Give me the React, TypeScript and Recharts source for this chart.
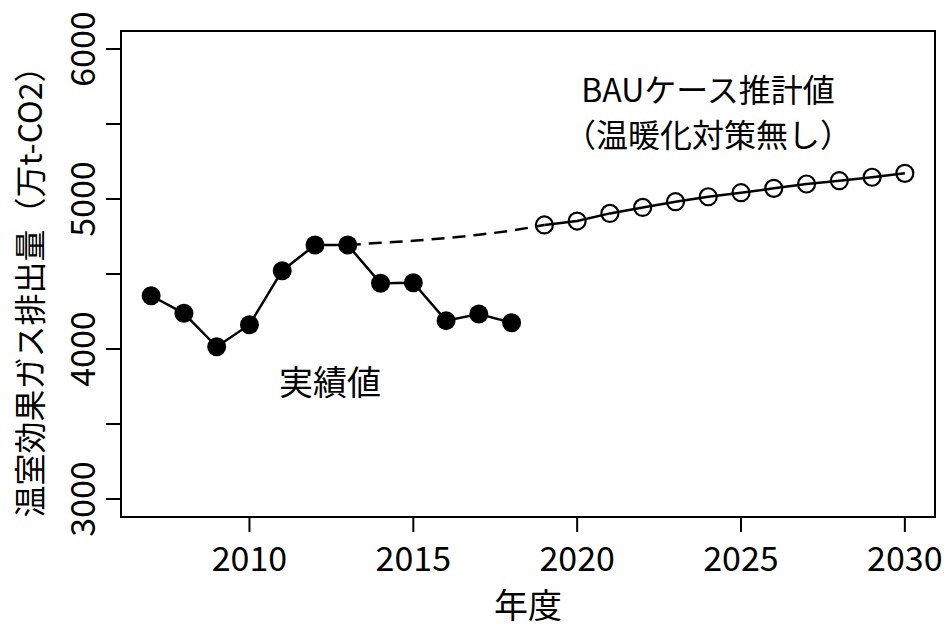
import React from "react";
import { LineChart, Line, XAxis, YAxis, ReferenceArea } from "recharts";

const actualYears = [2007, 2008, 2009, 2010, 2011, 2012, 2013, 2014, 2015, 2016, 2017, 2018];
const actualValues = [4355, 4238, 4015, 4162, 4522, 4693, 4693, 4438, 4442, 4189, 4233, 4175];

const bauYears = [2019, 2020, 2021, 2022, 2023, 2024, 2025, 2026, 2027, 2028, 2029, 2030];
const bauValues = [4827, 4853, 4904, 4944, 4982, 5015, 5042, 5071, 5100, 5122, 5145, 5171];

const bridgeYears = [2013, 2014, 2015, 2016, 2017, 2018, 2019];
const bridgeValues = [4693, 4708, 4722, 4740, 4762, 4790, 4827];

const xTicks = [2010, 2015, 2020, 2025, 2030];
const yTicks = [3000, 3500, 4000, 4500, 5000, 5500, 6000];
const yLabelTicks = [3000, 4000, 5000, 6000];

const xTitle = "年度";
const yTitle = "温室効果ガス排出量（万t-CO2）";
const actualLabel = "実績値";
const bauLabel1 = "BAUケース推計値";
const bauLabel2 = "（温暖化対策無し）";

const FONT = "'Noto Sans CJK JP', 'Noto Sans', sans-serif";
const FS = 34;

const allYears = Array.from(new Set([...actualYears, ...bauYears, ...bridgeYears])).sort((a, b) => a - b);
const data = allYears.map((yr) => {
  const row: any = { year: yr };
  const ai = actualYears.indexOf(yr);
  if (ai >= 0) row.actual = actualValues[ai];
  const bi = bauYears.indexOf(yr);
  if (bi >= 0) row.bau = bauValues[bi];
  const ri = bridgeYears.indexOf(yr);
  if (ri >= 0) row.bridge = bridgeValues[ri];
  return row;
});

const XTick = (props: any) => {
  const { x, payload } = props;
  return (
    <text x={x} y={556} textAnchor="middle" dominantBaseline="central" fontSize={FS} fontFamily={FONT} fill="#000">
      {payload.value}
    </text>
  );
};

const YTick = (props: any) => {
  const { y, payload } = props;
  if (!yLabelTicks.includes(payload.value)) return <g />;
  const cx = 80;
  return (
    <text
      x={cx}
      y={y}
      transform={`rotate(-90, ${cx}, ${y})`}
      textAnchor="middle"
      dominantBaseline="central"
      fontSize={FS}
      fontFamily={FONT}
      fill="#000"
    >
      {payload.value}
    </text>
  );
};

const FilledDot = (props: any) => {
  const { cx, cy } = props;
  if (cx == null || cy == null) return <g />;
  return <circle cx={cx} cy={cy} r={9.5} fill="#000" stroke="none" />;
};

const OpenDot = (props: any) => {
  const { cx, cy } = props;
  if (cx == null || cy == null) return <g />;
  return <circle cx={cx} cy={cy} r={8.5} fill="none" stroke="#000" strokeWidth={2.2} />;
};

export default function App() {
  return (
    <div style={{ position: "absolute", left: 0, top: 0, width: 946, height: 626, background: "#fff" }}>
      <LineChart width={946} height={626} data={data} margin={{ top: 31, right: 11, left: 0, bottom: 0 }}>
        <XAxis
          dataKey="year"
          type="number"
          domain={[2006.08, 2030.92]}
          ticks={xTicks}
          allowDataOverflow
          height={109}
          axisLine={false}
          tickLine={{ stroke: "#000", strokeWidth: 2 }}
          tickSize={15}
          tick={<XTick />}
          interval={0}
        />
        <YAxis
          type="number"
          domain={[2880, 6120]}
          ticks={yTicks}
          allowDataOverflow
          width={121}
          axisLine={false}
          tickLine={{ stroke: "#000", strokeWidth: 2 }}
          tickSize={15}
          tick={<YTick />}
          interval={0}
        />
        <ReferenceArea
          x1={2006.08}
          x2={2030.92}
          y1={2880}
          y2={6120}
          fill="none"
          fillOpacity={0}
          stroke="#000"
          strokeWidth={2}
          ifOverflow="visible"
        />
        <Line
          dataKey="bridge"
          type="monotone"
          stroke="#000"
          strokeWidth={2.5}
          strokeDasharray="13 8"
          dot={false}
          activeDot={false}
          isAnimationActive={false}
          connectNulls={false}
        />
        <Line
          dataKey="actual"
          type="linear"
          stroke="#000"
          strokeWidth={2.5}
          dot={<FilledDot />}
          activeDot={false}
          isAnimationActive={false}
          connectNulls={false}
        />
        <Line
          dataKey="bau"
          type="linear"
          stroke="#000"
          strokeWidth={2.5}
          dot={<OpenDot />}
          activeDot={false}
          isAnimationActive={false}
          connectNulls={false}
        />
      </LineChart>
      <svg
        width={946}
        height={626}
        style={{ position: "absolute", left: 0, top: 0, pointerEvents: "none" }}
      >
        <text x={528} y={603} textAnchor="middle" dominantBaseline="central" fontSize={FS} fontFamily={FONT} fill="#000">
          {xTitle}
        </text>
        <text
          x={28}
          y={284}
          transform="rotate(-90, 28, 284)"
          textAnchor="middle"
          dominantBaseline="central"
          fontSize={32}
          fontFamily={FONT}
          fill="#000"
        >
          {yTitle}
        </text>
        <text x={330} y={380} textAnchor="middle" dominantBaseline="central" fontSize={FS} fontFamily={FONT} fill="#000">
          {actualLabel}
        </text>
        <text x={708} y={88} textAnchor="middle" dominantBaseline="central" fontSize={32} fontFamily={FONT} fill="#000">
          {bauLabel1}
        </text>
        <text x={708} y={133} textAnchor="middle" dominantBaseline="central" fontSize={32} fontFamily={FONT} fill="#000">
          {bauLabel2}
        </text>
      </svg>
    </div>
  );
}
